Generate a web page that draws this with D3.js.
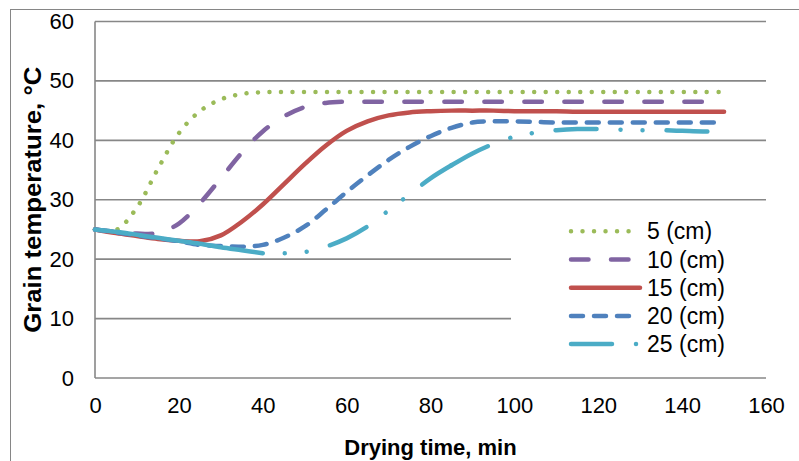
<!DOCTYPE html>
<html>
<head>
<meta charset="utf-8">
<script src="https://cdn.jsdelivr.net/npm/d3@7"></script>
<style>
    body { margin: 0; background: #ffffff; }
    text { font-family: Arial, "Liberation Sans", sans-serif; }
</style>
</head>
<body>
<script>
// Grain temperature during drying, for five bed depths

// Drying time, min (every 5 minutes)
var dryingTime = [0, 5, 10, 15, 20, 25, 30, 35, 40, 45, 50, 55, 60, 65, 70, 75,
    80, 85, 90, 95, 100, 105, 110, 115, 120, 125, 130, 135, 140, 145, 150];

// Grain temperature, °C, one array per bed depth
var temp5cm = [25, 24.9, 28.7, 35.2, 41.2, 44.9, 46.9, 47.8, 48.1, 48.15, 48.15, 48.15, 48.15, 48.15, 48.15, 48.15,
    48.15, 48.15, 48.15, 48.15, 48.15, 48.15, 48.15, 48.15, 48.15, 48.15, 48.15, 48.15, 48.15, 48.15, 48.15];
var temp10cm = [25, 24.6, 24.3, 24.4, 26.0, 29.4, 33.6, 37.9, 41.5, 44.0, 45.6, 46.3, 46.5, 46.5, 46.5, 46.5,
    46.5, 46.5, 46.5, 46.5, 46.5, 46.5, 46.5, 46.5, 46.5, 46.5, 46.5, 46.5, 46.5, 46.5, 46.5];
var temp15cm = [25, 24.4, 23.9, 23.4, 23.1, 23.0, 24.0, 26.3, 29.2, 32.6, 36.0, 39.1, 41.6, 43.2, 44.2, 44.7,
    44.9, 45.0, 45.0, 45.0, 44.9, 44.9, 44.9, 44.8, 44.8, 44.8, 44.8, 44.8, 44.8, 44.8, 44.8];
var temp20cm = [25, 24.5, 24.0, 23.5, 23.0, 22.4, 22.2, 22.1, 22.4, 23.6, 25.5, 28.3, 31.3, 34.1, 36.7, 38.9,
    40.7, 42.1, 43.0, 43.2, 43.2, 43.1, 43.0, 43.0, 43.0, 43.0, 43.0, 43.0, 43.0, 43.0, 43.0];
var temp25cm = [25, 24.6, 24.1, 23.6, 23.1, 22.6, 22.0, 21.5, 21.0, 21.0, 21.2, 22.1, 23.5, 25.5, 28.2, 30.9,
    33.6, 35.8, 37.8, 39.4, 40.6, 41.3, 41.7, 41.9, 41.9, 41.8, 41.7, 41.7, 41.6, 41.5, 41.5];

var seriesNames = ["5 (cm)", "10 (cm)", "15 (cm)", "20 (cm)", "25 (cm)"];
var xTicks = [0, 20, 40, 60, 80, 100, 120, 140, 160];
var yTicks = [0, 10, 20, 30, 40, 50, 60];

// Line styles (Excel-like colours and dash patterns, round caps)
var seriesColors = ["#9bbb59", "#8064a2", "#c0504d", "#4f81bd", "#4bacc6"];
var seriesDashes = ["0.01 11.5", "17.5 22.5", null, "12 11", "41 24 0.01 22 0.01 24"];

var width = 799, height = 461;
var margin = { top: 21.5, right: 33, bottom: 83, left: 95 };

var svg = d3.select("body").append("svg")
    .attr("width", width)
    .attr("height", height);

// Outer chart border
svg.append("rect")
    .attr("x", 10.5).attr("y", 9.5)
    .attr("width", 800).attr("height", 470)
    .attr("fill", "none")
    .attr("stroke", "#868686")
    .attr("stroke-width", 1);

var x = d3.scaleLinear().domain([0, 160]).range([margin.left, width - margin.right]);
var y = d3.scaleLinear().domain([0, 60]).range([height - margin.bottom, margin.top]);

// Horizontal gridlines
svg.append("g").selectAll("line")
    .data(yTicks)
    .enter().append("line")
    .attr("x1", x(0)).attr("x2", x(160))
    .attr("y1", function (d) { return y(d); })
    .attr("y2", function (d) { return y(d); })
    .attr("stroke", "#878787")
    .attr("stroke-width", 1.6);

// Left axis line
svg.append("line")
    .attr("x1", x(0)).attr("x2", x(0))
    .attr("y1", y(60)).attr("y2", y(0))
    .attr("stroke", "#878787")
    .attr("stroke-width", 1.6);

// Tick labels
var yAxis = svg.append("g")
    .attr("transform", "translate(" + x(0) + ",0)")
    .call(d3.axisLeft(y).tickValues(yTicks).tickSize(0).tickPadding(21));
yAxis.select(".domain").remove();
yAxis.selectAll("text").attr("font-size", "22px").attr("font-family", "Arial, 'Liberation Sans', sans-serif").attr("fill", "#000");

var xAxis = svg.append("g")
    .attr("transform", "translate(0," + y(0) + ")")
    .call(d3.axisBottom(x).tickValues(xTicks).tickSize(0).tickPadding(19));
xAxis.select(".domain").remove();
xAxis.selectAll("text").attr("font-size", "22px").attr("font-family", "Arial, 'Liberation Sans', sans-serif").attr("fill", "#000");

// Axis titles
svg.append("text")
    .attr("x", (x(0) + x(160)) / 2)
    .attr("y", 455)
    .attr("text-anchor", "middle")
    .attr("font-size", "22px")
    .attr("font-weight", "bold")
    .text("Drying time, min");

svg.append("text")
    .attr("transform", "translate(41," + (y(0) + y(60)) / 2 + ") rotate(-90)")
    .attr("text-anchor", "middle")
    .attr("font-size", "23px")
    .attr("font-weight", "bold")
    .attr("textLength", 266)
    .attr("lengthAdjust", "spacingAndGlyphs")
    .text("Grain temperature, °C");

// Legend background hides the gridlines behind it
svg.append("rect")
    .attr("x", 511).attr("y", 207)
    .attr("width", x(160) - 511 + 2).attr("height", 163)
    .attr("fill", "#ffffff");

// Series lines
var allSeries = [temp5cm, temp10cm, temp15cm, temp20cm, temp25cm];
var line = d3.line()
    .x(function (d) { return x(d.t); })
    .y(function (d) { return y(d.v); })
    .curve(d3.curveCatmullRom.alpha(0.5));

allSeries.forEach(function (values, i) {
    var points = dryingTime.map(function (t, j) { return { t: t, v: values[j] }; });
    if (i === 4) {
        // the 25 cm series: solid while cooling, then long dash dot dot,
        // the pattern restarting part way up like in the original
        drawSeries(points.filter(function (d) { return d.t <= 40; }), i, null, 0);
        drawSeries(points.filter(function (d) { return d.t >= 40 && d.t <= 85; }), i, seriesDashes[i], 43);
        drawSeries(points.filter(function (d) { return d.t >= 85; }), i, seriesDashes[i], 0);
    } else {
        drawSeries(points, i, seriesDashes[i], 0);
    }
});

function drawSeries(points, i, dash, offset) {
    svg.append("path")
        .datum(points)
        .attr("fill", "none")
        .attr("stroke", seriesColors[i])
        .attr("stroke-width", 4.5)
        .attr("stroke-linecap", "round")
        .attr("stroke-linejoin", "round")
        .attr("stroke-dasharray", dash)
        .attr("stroke-dashoffset", offset)
        .attr("d", line);
}

// Legend entries
var legend = svg.append("g").selectAll("g")
    .data(seriesNames)
    .enter().append("g")
    .attr("transform", function (d, i) { return "translate(571," + (231.3 + i * 28.2) + ")"; });

legend.append("line")
    .attr("x1", 0).attr("x2", 69)
    .attr("y1", 0).attr("y2", 0)
    .attr("stroke", function (d, i) { return seriesColors[i]; })
    .attr("stroke-width", 4.5)
    .attr("stroke-linecap", "round")
    .attr("stroke-dasharray", function (d, i) { return seriesDashes[i]; });

legend.append("text")
    .attr("x", 76)
    .attr("y", 0)
    .attr("dy", "0.35em")
    .attr("font-size", "23px")
    .attr("fill", "#000")
    .text(function (d) { return d; });
</script>
</body>
</html>
